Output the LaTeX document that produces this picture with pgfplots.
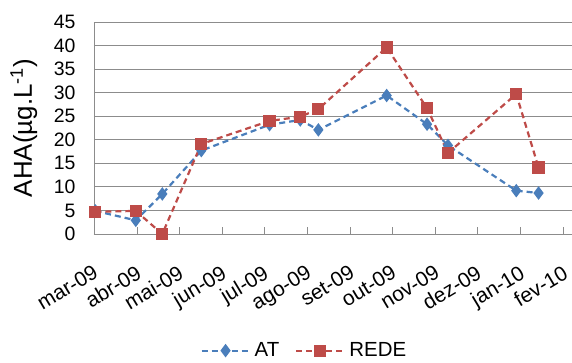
\documentclass[border=0pt]{standalone}
\usepackage{fontspec}
\setmainfont{Liberation Sans}
\usepackage{pgfplots}
\pgfplotsset{compat=1.18}
\definecolor{atblue}{HTML}{4A7EBB}
\definecolor{redered}{HTML}{BE4B48}
\definecolor{gridgray}{HTML}{8C8C8C}
\newcommand{\fs}{\fontsize{19.5}{23}\selectfont}
\begin{document}
\begin{tikzpicture}
\useasboundingbox (-94bp,-129bp) rectangle (478bp,234bp);
\begin{axis}[
  at={(0,0)}, anchor=south west,
  scale only axis=true, width=478bp, height=212bp,
  xmin=0, xmax=343, ymin=0, ymax=45,
  clip=false,
  axis x line*=bottom, axis y line*=left,
  axis line style={gridgray, line width=0.8bp},
  xtick={0,31,61,92,122,153,184,214,245,275,306,337},
  xticklabels={mar-09,abr-09,mai-09,jun-09,jul-09,ago-09,set-09,out-09,nov-09,dez-09,jan-10,fev-10},
  ytick={0,5,...,45},
  /pgf/number format/assume math mode=true,
  tick align=inside,
  major tick length=7bp,
  xtick style={gridgray, line width=0.8bp},
  ytick style={draw=none},
  ymajorgrids=true,
  grid style={gridgray, line width=0.8bp},
  ticklabel style={font=\fs},
  xticklabel style={font=\fontsize{21}{25}\selectfont, xshift=-2bp, yshift=-30bp, rotate=31, anchor=north east, inner sep=0pt},
  yticklabel style={xshift=-15bp},
  ylabel={AHA(µg.L\textsuperscript{-1})},
  ylabel style={font=\fontsize{26}{30}\selectfont, at={(axis description cs:-0.147,0.5)}, anchor=center},
  legend columns=2,
  legend style={draw=none, font=\fontsize{20.5}{24}\selectfont, at={(axis description cs:0.44,-0.55)}, anchor=center, column sep=2bp, /tikz/every even column/.append style={column sep=14bp}},
  legend image code/.code={\draw[mark repeat=2, mark phase=2] plot coordinates {(0bp,0bp) (24bp,0bp) (48bp,0bp)};},
]
\addplot[atblue, line width=2.2bp, dash pattern=on 6bp off 4bp, mark=diamond*, mark size=5bp, mark options={solid, fill=atblue}]
coordinates {(1,4.9) (30,2.9) (49,8.5) (77,17.7) (126,23.2) (148,24.2) (161,22.1) (210,29.4) (239,23.3) (254,18.8) (303,9.2) (319,8.7)};
\addlegendentry{AT}
\addplot[redered, line width=2.2bp, dash pattern=on 6bp off 4bp, mark=square*, mark size=5bp, mark options={solid, fill=redered}]
coordinates {(1,4.7) (30,4.9) (49,0) (77,19.1) (126,24.0) (148,24.9) (161,26.5) (210,39.6) (239,26.7) (254,17.2) (303,29.7) (319,14.1)};
\addlegendentry{REDE}
\end{axis}
\end{tikzpicture}
\end{document}
